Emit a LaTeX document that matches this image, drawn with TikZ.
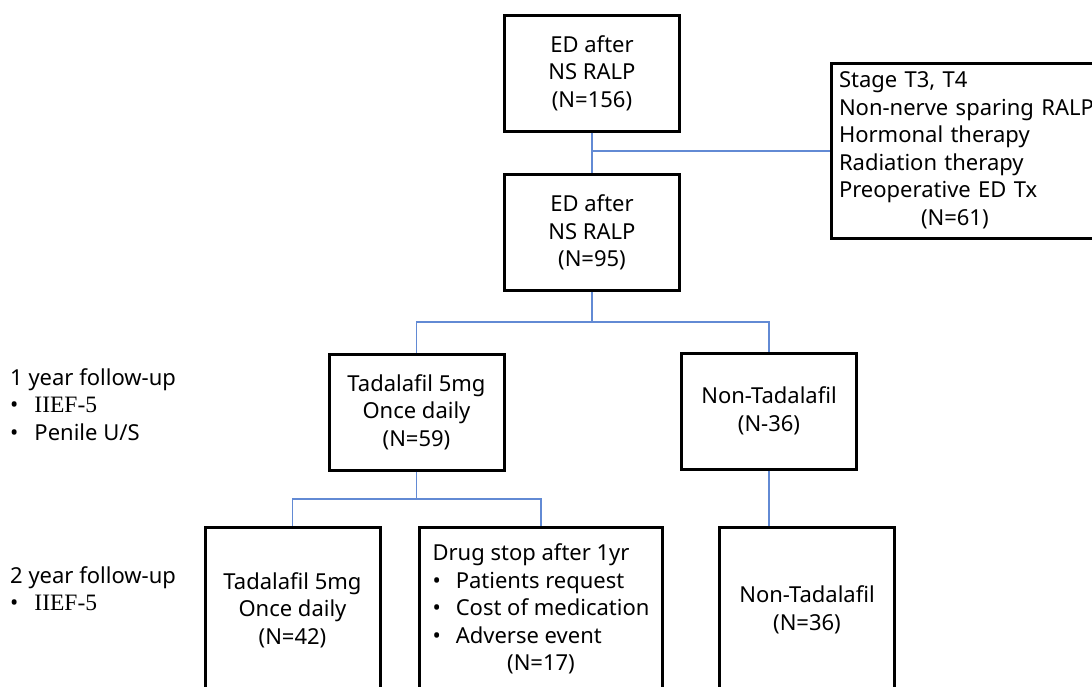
\documentclass[tikz,border=0pt]{standalone}
\usepackage{fontspec}
\setmainfont{Noto Sans}
\newfontfamily\scoreFont{Liberation Serif}
\usetikzlibrary{positioning,calc}
\definecolor{linkblue}{RGB}{98,138,212}

\begin{document}
\begin{tikzpicture}[
            x=1pt, y=-1pt,
            every node/.style={font=\fontsize{22}{27.5}\selectfont},
            box/.style={
                rectangle,
                draw=black,
                line width=3pt,
                minimum width=175pt,
                minimum height=116pt,
                inner sep=0pt,
                align=center
            },
            tall/.style={
                box,
                minimum height=166pt
            },
            link/.style={
                draw=linkblue,
                line width=1.6pt
            },
            followup/.style={
                anchor=west,
                inner sep=0pt,
                align=left
            },
        ]

            \useasboundingbox (0,0) rectangle (1092,686);
            \clip (0,0) rectangle (1092,686);

            % first two steps and the exclusions
            \node[box] (ed1) at (592,73) {ED after\\NS RALP\\(N=156)};
            \node[box] (ed2) at (592,232.5) {ED after\\NS RALP\\(N=95)};
            \node[box, anchor=west, minimum height=175pt, text width=290pt,
                inner xsep=8pt, align=left] (excl) at (829.5,151)
                {\begin{tabular}{@{}l@{}}
                    Stage T3, T4\\
                    Non-nerve sparing RALP\\
                    Hormonal therapy\\
                    Radiation therapy\\
                    Preoperative ED Tx\\
                    \hspace*{82pt}(N=61)
                \end{tabular}};

            % 1 year
            \node[box] (tad1) at (416.5,412) {Tadalafil 5mg\\Once daily\\(N=59)};
            \node[box] (non1) at (769,411) {Non-Tadalafil\\(N-36)};

            % 2 year
            \node[tall] (tad2) at (292.5,610) {Tadalafil 5mg\\Once daily\\(N=42)};
            \node[tall, minimum width=243pt] (stop) at (541,610)
                {\begin{tabular}{@{}l@{\hspace{15pt}}l@{}}
                    \multicolumn{2}{@{}l@{}}{Drug stop after 1yr}\\
                    \textbullet & Patients request\\
                    \textbullet & Cost of medication\\
                    \textbullet & Adverse event\\
                    \multicolumn{2}{c}{(N=17)}
                \end{tabular}};
            \node[tall] (non2) at (807,610) {Non-Tadalafil\\(N=36)};

            % follow-up labels
            \node[followup] (fu1) at (10,407)
                {\begin{tabular}{@{}l@{\hspace{16pt}}l@{}}
                    \multicolumn{2}{@{}l@{}}{1 year follow-up}\\
                    \textbullet & {\scoreFont\fontsize{23.5}{27.5}\selectfont IIEF-5}\\
                    \textbullet & Penile U/S
                \end{tabular}};
            \node[followup] (fu2) at (10,591.5)
                {\begin{tabular}{@{}l@{\hspace{16pt}}l@{}}
                    \multicolumn{2}{@{}l@{}}{2 year follow-up}\\
                    \textbullet & {\scoreFont\fontsize{23.5}{27.5}\selectfont IIEF-5}
                \end{tabular}};

            \coordinate (split1) at (592,322);
            \coordinate (split2) at (416.5,499);

            \draw[link] (ed1.south) -- (ed2.north);
            \draw[link] (ed1.south |- excl.west) -- (excl.west);
            \draw[link] (ed2.south) -- (split1);
            \draw[link] (tad1.north) |- (split1) -| (non1.north);
            \draw[link] (tad1.south) -- (split2);
            \draw[link] (tad2.north) |- (split2) -| (stop.north);
            \draw[link] (non1.south) -- (non1.south |- non2.north);
        \end{tikzpicture}
\end{document}
